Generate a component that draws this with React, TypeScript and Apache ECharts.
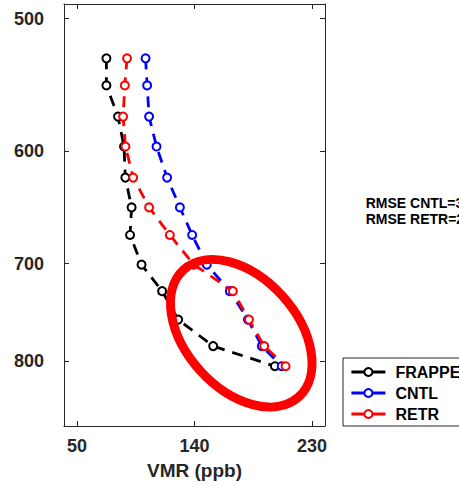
import React, { useEffect, useRef } from "react";
import * as echarts from "echarts";

const pressureLevels = [528, 548, 572, 596, 622, 648, 673, 701, 727, 756, 784, 806];
const frappeVmr = [72.5, 72.5, 81.4, 86.0, 87.0, 91.8, 90.6, 99.4, 115.2, 127.5, 154.3, 201.6];
const cntlVmr = [102.5, 103.7, 105.2, 110.9, 119.0, 128.8, 138.2, 149.4, 167.1, 180.9, 191.6, 206.8];
const retrVmr = [88.3, 86.6, 85.3, 87.1, 93.0, 105.2, 121.1, 139.5, 169.4, 181.7, 193.4, 209.8];
const seriesNames = ["FRAPPE", "CNTL", "RETR"];
const seriesColors = ["#000000", "#0000ff", "#ff0000"];
const xTicks = [50, 140, 230];
const yTicks = [500, 600, 700, 800];
const rmseLines = ["RMSE CNTL=3", "RMSE RETR=2"];

const FONT = "'Liberation Sans', Arial, Helvetica, sans-serif";
const AXIS_COLOR = "#262626";

export default function App() {
  const ref = useRef<HTMLDivElement>(null);
  useEffect(() => {
    if (!ref.current) return;
    const chart = echarts.init(ref.current, null, { renderer: "svg" });
    const lg = (v: number) => Math.log10(v);
    const allVmr = [frappeVmr, cntlVmr, retrVmr];
    const series = seriesNames.map((name, i) => ({
      name,
      type: "line",
      xAxisIndex: 0,
      yAxisIndex: 0,
      data: allVmr[i].map((x, j) => [x, lg(pressureLevels[j])]),
      symbol: "emptyCircle",
      symbolSize: 8,
      color: seriesColors[i],
      lineStyle: { color: seriesColors[i], width: 2.8, type: [11, 8] },
      itemStyle: { color: seriesColors[i], borderWidth: 2.5 },
      z: 2 + i,
    }));
    const xAxisBase = {
      type: "value",
      min: 40,
      max: 240,
      splitLine: { show: false },
      axisLine: { show: true, onZero: false, lineStyle: { color: AXIS_COLOR, width: 1 } },
      axisTick: { show: true, inside: true, length: 5, customValues: xTicks, lineStyle: { color: AXIS_COLOR } },
    };
    const yAxisBase = {
      type: "value",
      inverse: true,
      min: lg(490),
      max: lg(875),
      splitLine: { show: false },
      axisLine: { show: true, onZero: false, lineStyle: { color: AXIS_COLOR, width: 1 } },
      axisTick: { show: true, inside: true, length: 5, customValues: yTicks.map(lg), lineStyle: { color: AXIS_COLOR } },
    };
    chart.setOption({
      animation: false,
      grid: { left: 64, top: 4, right: 134, bottom: 58, containLabel: false },
      xAxis: [
        {
          ...xAxisBase,
          position: "bottom",
          name: "VMR (ppb)",
          nameLocation: "middle",
          nameGap: 35,
          nameTextStyle: { fontSize: 19, fontWeight: "bold", color: AXIS_COLOR, fontFamily: FONT },
          axisLabel: {
            show: true,
            customValues: xTicks,
            fontSize: 18,
            fontWeight: "bold",
            color: AXIS_COLOR,
            fontFamily: FONT,
            margin: 11,
          },
        },
        { ...xAxisBase, position: "top", axisLabel: { show: false } },
      ],
      yAxis: [
        {
          ...yAxisBase,
          position: "left",
          axisLabel: {
            show: true,
            customValues: yTicks.map(lg),
            formatter: (v: number) => String(Math.round(Math.pow(10, v))),
            fontSize: 18,
            fontWeight: "bold",
            color: AXIS_COLOR,
            fontFamily: FONT,
            margin: 20,
          },
        },
        { ...yAxisBase, position: "right", axisLabel: { show: false } },
      ],
      legend: {
        orient: "vertical",
        left: 343,
        top: 358,
        data: seriesNames,
        borderColor: AXIS_COLOR,
        borderWidth: 1,
        backgroundColor: "#ffffff",
        padding: [6, 60, 4, 7],
        itemWidth: 34,
        itemHeight: 10,
        itemGap: 5,
        lineStyle: { type: "solid", width: 2.8 },
        textStyle: {
          fontSize: 16,
          fontWeight: "bold",
          color: "#000000",
          fontFamily: FONT,
          lineHeight: 16,
          padding: [0, 0, 0, 5],
        },
        selectedMode: false,
      },
      graphic: [
        {
          type: "ellipse",
          x: 241.25,
          y: 333.25,
          rotation: -0.836,
          shape: { cx: 0, cy: 0, rx: 85.8, ry: 55.6 },
          style: { fill: "none", stroke: "#ff0000", lineWidth: 9 },
          z: 100,
        },
        ...rmseLines.map((t, i) => ({
          type: "text",
          x: 365.7,
          y: 203.3 + i * 16,
          style: {
            text: t,
            font: "bold 14px 'Liberation Sans', Arial, sans-serif",
            fill: "#000000",
            verticalAlign: "middle",
            align: "left",
          },
          z: 100,
        })),
      ],
      series,
    });
    return () => chart.dispose();
  }, []);
  return (
    <div
      ref={ref}
      style={{ position: "fixed", left: 0, top: 0, width: 459, height: 485, background: "#ffffff" }}
    />
  );
}
